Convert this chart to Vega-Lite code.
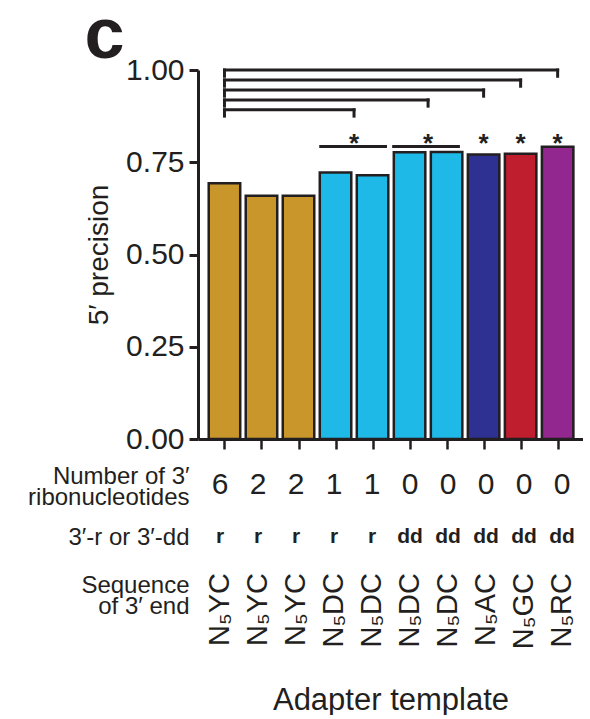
{
  "$schema": "https://vega.github.io/schema/vega-lite/v6.json",
  "padding": {"left": 27, "top": 0, "right": 0, "bottom": 0},
  "title": {"text": "c", "anchor": "start", "frame": "bounds", "fontSize": 72, "fontWeight": "bold", "color": "#231f20", "font": "Liberation Sans", "dx": 57, "offset": -18},
  "datasets": {
    "bars": [
      {"id": 1, "template": "N₅YC", "n_ribo": "6", "end_type": "r", "precision": 0.693},
      {"id": 2, "template": "N₅YC", "n_ribo": "2", "end_type": "r", "precision": 0.659},
      {"id": 3, "template": "N₅YC", "n_ribo": "2", "end_type": "r", "precision": 0.659},
      {"id": 4, "template": "N₅DC", "n_ribo": "1", "end_type": "r", "precision": 0.722},
      {"id": 5, "template": "N₅DC", "n_ribo": "1", "end_type": "r", "precision": 0.715},
      {"id": 6, "template": "N₅DC", "n_ribo": "0", "end_type": "dd", "precision": 0.777},
      {"id": 7, "template": "N₅DC", "n_ribo": "0", "end_type": "dd", "precision": 0.778},
      {"id": 8, "template": "N₅AC", "n_ribo": "0", "end_type": "dd", "precision": 0.771},
      {"id": 9, "template": "N₅GC", "n_ribo": "0", "end_type": "dd", "precision": 0.773},
      {"id": 10, "template": "N₅RC", "n_ribo": "0", "end_type": "dd", "precision": 0.792}
    ],
    "brackets": [
      {"from": 1, "to": 10, "level": 1.0, "drop": 0.983},
      {"from": 1, "to": 9, "level": 0.973, "drop": 0.956},
      {"from": 1, "to": 8, "level": 0.946, "drop": 0.929},
      {"from": 1, "to": 6.5, "level": 0.919, "drop": 0.902},
      {"from": 1, "to": 4.5, "level": 0.892, "drop": 0.875}
    ],
    "pairs": [
      {"from": 3.56, "to": 5.39, "level": 0.793},
      {"from": 5.53, "to": 7.36, "level": 0.793}
    ],
    "stars": [
      {"x": 4.5, "level": 0.80, "mark": "*"},
      {"x": 6.5, "level": 0.80, "mark": "*"},
      {"x": 8, "level": 0.80, "mark": "*"},
      {"x": 9, "level": 0.80, "mark": "*"},
      {"x": 10, "level": 0.80, "mark": "*"}
    ]
  },
  "vconcat": [
    {
      "width": 385,
      "height": 369,
      "layer": [
        {
          "data": {"name": "bars"},
          "mark": {"type": "bar", "size": 31.5, "stroke": "#231f20", "strokeWidth": 2.5},
          "encoding": {
            "x": {"field": "id", "type": "quantitative", "title": null,
              "scale": {"domain": [0.42, 10.55], "nice": false, "zero": false},
              "axis": {"values": [1, 2, 3, 4, 5, 6, 7, 8, 9, 10], "labels": false, "tickSize": 10, "tickWidth": 2.5, "domainWidth": 3, "title": null, "grid": false}},
            "y": {"field": "precision", "type": "quantitative", "title": "5′ precision",
              "scale": {"domain": [0, 1], "nice": false},
              "axis": {"values": [0, 0.25, 0.5, 0.75, 1], "format": ".2f", "title": "5′ precision", "titleFontSize": 28, "titlePadding": 12, "labelFontSize": 30, "labelPadding": 5, "tickSize": 9, "tickWidth": 3, "domainWidth": 3, "grid": false}},
            "color": {"field": "template", "type": "nominal",
              "scale": {"domain": ["N₅YC", "N₅DC", "N₅AC", "N₅GC", "N₅RC"], "range": ["#C9962B", "#1EB9E7", "#2E3192", "#BE1E2D", "#92278F"]},
              "legend": null}
          }
        },
        {
          "data": {"name": "brackets"},
          "mark": {"type": "rule", "strokeWidth": 3, "color": "#231f20", "strokeCap": "square"},
          "encoding": {
            "x": {"field": "from", "type": "quantitative", "title": null},
            "x2": {"field": "to"},
            "y": {"field": "level", "type": "quantitative", "title": "5′ precision"}
          }
        },
        {
          "data": {"name": "brackets"},
          "mark": {"type": "rule", "strokeWidth": 3, "color": "#231f20", "strokeCap": "square"},
          "encoding": {
            "x": {"field": "from", "type": "quantitative", "title": null},
            "y": {"field": "level", "type": "quantitative", "title": "5′ precision"},
            "y2": {"field": "drop"}
          }
        },
        {
          "data": {"name": "brackets"},
          "mark": {"type": "rule", "strokeWidth": 3, "color": "#231f20", "strokeCap": "square"},
          "encoding": {
            "x": {"field": "to", "type": "quantitative", "title": null},
            "y": {"field": "level", "type": "quantitative", "title": "5′ precision"},
            "y2": {"field": "drop"}
          }
        },
        {
          "data": {"name": "pairs"},
          "mark": {"type": "rule", "strokeWidth": 3, "color": "#231f20"},
          "encoding": {
            "x": {"field": "from", "type": "quantitative", "title": null},
            "x2": {"field": "to"},
            "y": {"field": "level", "type": "quantitative", "title": "5′ precision"}
          }
        },
        {
          "data": {"name": "stars"},
          "mark": {"type": "text", "fontSize": 26, "fontWeight": "bold", "baseline": "middle", "color": "#231f20"},
          "encoding": {
            "x": {"field": "x", "type": "quantitative", "title": null},
            "y": {"field": "level", "type": "quantitative", "title": "5′ precision"},
            "text": {"field": "mark"}
          }
        }
      ]
    },
    {
      "width": 385,
      "height": 104,
      "data": {"name": "bars"},
      "layer": [
        {
          "mark": {"type": "text", "fontSize": 30, "color": "#231f20"},
          "encoding": {
            "x": {"field": "id", "type": "quantitative", "scale": {"domain": [0.42, 10.55], "nice": false, "zero": false}, "axis": null},
            "y": {"datum": "Number of 3′ ribonucleotides", "type": "nominal",
              "scale": {"domain": ["Number of 3′ ribonucleotides", "3′-r or 3′-dd"], "paddingInner": 0, "paddingOuter": 0},
              "axis": {"title": null, "domain": false, "ticks": false, "labelFontSize": 24, "labelLineHeight": 21, "labelPadding": 9, "labelLimit": 400,
                "labelExpr": "datum.value == 'Number of 3′ ribonucleotides' ? ['Number of 3′', 'ribonucleotides'] : datum.value",
                "labelOffset": {"expr": "datum.value == 'Number of 3′ ribonucleotides' ? -9 : 0"}}},
            "text": {"field": "n_ribo"}
          }
        },
        {
          "mark": {"type": "text", "fontSize": 21, "fontWeight": "bold", "color": "#231f20"},
          "encoding": {
            "x": {"field": "id", "type": "quantitative", "scale": {"domain": [0.42, 10.55], "nice": false, "zero": false}, "axis": null},
            "y": {"datum": "3′-r or 3′-dd", "type": "nominal"},
            "text": {"field": "end_type"}
          }
        }
      ]
    },
    {
      "width": 385,
      "height": 10,
      "data": {"name": "bars"},
      "mark": {"type": "text", "angle": 270, "align": "right", "baseline": "middle", "fontSize": 29, "color": "#231f20"},
      "encoding": {
        "x": {"field": "id", "type": "quantitative", "scale": {"domain": [0.42, 10.55], "nice": false, "zero": false},
          "axis": {"title": "Adapter template", "labels": false, "ticks": false, "domain": false, "grid": false, "titleFontSize": 31, "titlePadding": 107}},
        "y": {"datum": "Sequence of 3′ end", "type": "nominal",
          "scale": {"paddingInner": 0, "paddingOuter": 0},
          "axis": {"title": null, "domain": false, "ticks": false, "labelFontSize": 24, "labelLineHeight": 21, "labelPadding": 9, "labelLimit": 400, "labelOffset": 12,
            "labelExpr": "datum.value == 'Sequence of 3′ end' ? ['Sequence', 'of 3′ end'] : datum.value"}},
        "text": {"field": "template"}
      }
    }
  ],
  "spacing": 5,
  "config": {
    "view": {"stroke": null},
    "font": "Liberation Sans",
    "axis": {"domainColor": "#231f20", "tickColor": "#231f20", "labelColor": "#231f20", "titleColor": "#231f20", "labelFont": "Liberation Sans", "titleFont": "Liberation Sans", "titleFontWeight": "normal", "grid": false},
    "text": {"font": "Liberation Sans", "color": "#231f20"}
  }
}
